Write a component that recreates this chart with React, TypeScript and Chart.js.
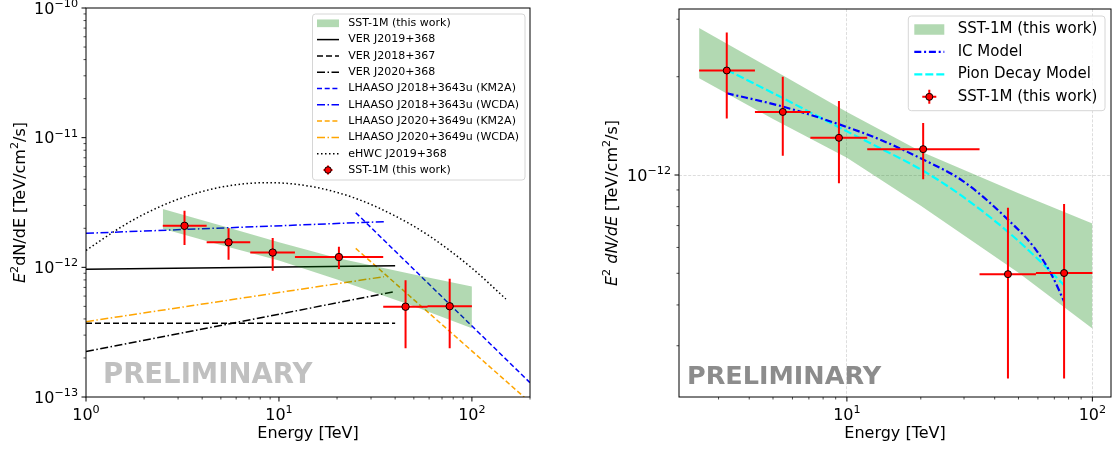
import React, { useEffect, useRef } from 'react';
import { Chart, registerables } from 'chart.js';

Chart.register(...registerables);

const FONT = 'DejaVu Sans';

// ---------------- DATA ----------------
// SST-1M flux points (E in TeV, E^2 dN/dE in TeV/cm^2/s)
const sstEnergy = [3.24, 5.48, 9.28, 20.45, 45.3, 76.7];
const sstEnergyLow = [2.5, 4.22, 7.1, 12.1, 34.7, 58.9];
const sstEnergyHigh = [4.22, 7.1, 12.1, 34.7, 58.9, 100];
const sstFlux = [2.09e-12, 1.56e-12, 1.3e-12, 1.2e-12, 4.97e-13, 5.01e-13];
const sstFluxLow = [1.49e-12, 1.146e-12, 9.43e-13, 9.7e-13, 2.38e-13, 2.38e-13];
const sstFluxHigh = [2.73e-12, 2.0e-12, 1.685e-12, 1.443e-12, 7.94e-13, 8.15e-13];

// SST-1M butterfly band
const bandEnergy = [2.5, 5, 10, 20, 50, 100];
const bandUpper = [2.82e-12, 2.1e-12, 1.56e-12, 1.18e-12, 8.8e-13, 7.1e-13];
const bandLower = [1.98e-12, 1.485e-12, 1.13e-12, 8.05e-13, 5.02e-13, 3.39e-13];

// VERITAS sources
const verEnergy = [1, 40];
const ver2019Flux = [9.66e-13, 1.03e-12];
const ver2018Flux = [3.71e-13, 3.71e-13];
const ver2020Flux = [2.24e-13, 6.5e-13];

// LHAASO sources
const km2aEnergy = [25, 200];
const lhaaso2018Km2aFlux = [2.64e-12, 1.29e-13];
const lhaaso2020Km2aFlux = [1.4e-12, 9.1e-14];
const wcdaEnergy = [1, 35];
const lhaaso2018WcdaFlux = [1.83e-12, 2.25e-12];
const lhaaso2020WcdaFlux = [3.81e-13, 8.47e-13];

// eHWC J2019+368
const ehwcEnergy = [1, 1.5, 2, 3, 5, 8.8, 15, 25, 40, 60, 100, 150];
const ehwcFlux = [1.35e-12, 2.02e-12, 2.57e-12, 3.35e-12, 4.15e-12, 4.5e-12, 4.18e-12, 3.4e-12, 2.49e-12, 1.75e-12, 9.86e-13, 5.7e-13];

// Models (right panel)
const modelEnergy = [3.24, 5.48, 9.28, 13.6, 20.45, 29.6, 45.3, 58.9, 68.7, 76.7];
const icModelFlux = [1.78e-12, 1.62e-12, 1.43e-12, 1.285e-12, 1.115e-12, 9.6e-13, 7.3e-13, 5.9e-13, 4.9e-13, 4.1e-13];
const pionModelFlux = [2.1e-12, 1.72e-12, 1.4e-12, 1.21e-12, 1.03e-12, 8.6e-13, 6.7e-13, 5.6e-13, 5.0e-13, 4.6e-13];

// Labels
const LBL_SST = 'SST-1M (this work)';
const LBL_VER2019 = 'VER J2019+368';
const LBL_VER2018 = 'VER J2018+367';
const LBL_VER2020 = 'VER J2020+368';
const LBL_L2018_KM2A = 'LHAASO J2018+3643u (KM2A)';
const LBL_L2018_WCDA = 'LHAASO J2018+3643u (WCDA)';
const LBL_L2020_KM2A = 'LHAASO J2020+3649u (KM2A)';
const LBL_L2020_WCDA = 'LHAASO J2020+3649u (WCDA)';
const LBL_EHWC = 'eHWC J2019+368';
const LBL_IC = 'IC Model';
const LBL_PION = 'Pion Decay Model';
const X_TITLE = 'Energy [TeV]';
const WATERMARK = 'PRELIMINARY';

// ---------------- HELPERS ----------------
const BAND = 'rgba(0,128,0,0.3)';
const BLUE = '#0000ff';
const ORANGE = '#ffa500';
const CYAN = '#00ffff';
const RED = '#ff0000';
const TICK_SIZE = 16;

const isPow10 = (v: number) => {
  const l = Math.log10(v);
  return Math.abs(l - Math.round(l)) < 1e-6;
};
const isNice = (v: number) => {
  const e = Math.floor(Math.log10(v) + 1e-9);
  const m = v / Math.pow(10, e);
  return Math.abs(m - Math.round(m)) < 1e-6;
};
const expText = (v: number) => String(Math.round(Math.log10(v))).replace('-', '\u2212');

const xy = (xs: number[], ys: (number | null)[]) => xs.map((x, i) => ({ x, y: ys[i] }));

function errorBarData() {
  const pts: { x: number; y: number | null }[] = [];
  sstEnergy.forEach((e, i) => {
    pts.push({ x: sstEnergyLow[i], y: sstFlux[i] }, { x: sstEnergyHigh[i], y: sstFlux[i] }, { x: sstEnergyHigh[i], y: null });
    pts.push({ x: e, y: sstFluxLow[i] }, { x: e, y: sstFluxHigh[i] }, { x: e, y: null });
  });
  return pts;
}

function lineDs(label: string, xs: number[], ys: number[], color: string, dash: number[], width: number, order: number, smooth = false) {
  return {
    label,
    data: xy(xs, ys),
    borderColor: color,
    backgroundColor: color,
    borderDash: dash,
    borderWidth: width,
    pointRadius: 0,
    pointHoverRadius: 0,
    fill: false,
    cubicInterpolationMode: smooth ? 'monotone' : 'default',
    order,
  };
}

function bandDs(order: number) {
  return [
    {
      label: 'band-lower',
      data: xy(bandEnergy, bandLower),
      borderColor: 'rgba(0,0,0,0)',
      borderWidth: 1,
      pointRadius: 0,
      fill: false,
      order,
    },
    {
      label: LBL_SST,
      data: xy(bandEnergy, bandUpper),
      borderColor: 'rgba(0,0,0,0)',
      backgroundColor: BAND,
      borderWidth: 1,
      pointRadius: 0,
      fill: '-1',
      order,
    },
  ];
}

function pointDs(radius: number) {
  return [
    {
      label: 'errbars',
      data: errorBarData(),
      borderColor: RED,
      borderWidth: 2,
      pointRadius: 0,
      fill: false,
      spanGaps: false,
      order: 1,
    },
    {
      label: LBL_SST,
      data: xy(sstEnergy, sstFlux),
      showLine: false,
      pointRadius: radius,
      pointBackgroundColor: RED,
      pointBorderColor: '#000',
      pointBorderWidth: 1,
      order: 0,
    },
  ];
}

interface Seg { text: string; italic?: boolean; sup?: boolean }
interface LegendEntry { label: string; kind: 'patch' | 'line' | 'errorbar'; color: string; dash?: number[]; width?: number }
interface LegendCfg {
  left: number; top: number; width: number; height: number; fontSize: number;
  rowStart: number; rowStep: number; handleX: number; handleLen: number; textX: number;
  barHalf: number; markerR: number; entries: LegendEntry[];
}
interface DecoCfg {
  yTitle: Seg[]; yTitleX: number; titleSize: number;
  wmColor: string; wmSize: number; wmDx: number; wmDy: number;
  xLabelBaseline: number; yLabelGap: number;
  legend: LegendCfg;
}

// draws "10" followed by a raised exponent; returns nothing
function drawPow(ctx: CanvasRenderingContext2D, v: number, x: number, baseline: number, align: 'center' | 'right') {
  const base = '10';
  const ex = expText(v);
  const bigFont = `${TICK_SIZE}px "${FONT}"`;
  const smallFont = `${TICK_SIZE * 0.7}px "${FONT}"`;
  ctx.font = bigFont;
  const wb = ctx.measureText(base).width;
  ctx.font = smallFont;
  const we = ctx.measureText(ex).width;
  const total = wb + we;
  const start = align === 'center' ? x - total / 2 : x - total;
  ctx.textAlign = 'left';
  ctx.textBaseline = 'alphabetic';
  ctx.fillStyle = '#000';
  ctx.font = bigFont;
  ctx.fillText(base, start, baseline);
  ctx.font = smallFont;
  ctx.fillText(ex, start + wb, baseline - TICK_SIZE * 0.42);
}

function makeDeco(cfg: DecoCfg) {
  return {
    id: 'deco',
    beforeDatasetsDraw(chart: any) {
      const { ctx, chartArea } = chart;
      ctx.save();
      ctx.font = `bold ${cfg.wmSize}px "${FONT}"`;
      ctx.fillStyle = cfg.wmColor;
      ctx.textBaseline = 'alphabetic';
      ctx.textAlign = 'left';
      ctx.fillText(WATERMARK, chartArea.left + cfg.wmDx, chartArea.bottom - cfg.wmDy);
      ctx.restore();
    },
    afterDraw(chart: any) {
      const { ctx, chartArea } = chart;
      const { left, right, top, bottom } = chartArea;
      ctx.save();
      // ticks + tick labels
      ctx.strokeStyle = '#000';
      const xs = chart.scales.x;
      xs.ticks.forEach((t: any) => {
        if (!isNice(t.value)) return;
        const px = xs.getPixelForValue(t.value);
        if (px < left - 0.5 || px > right + 0.5) return;
        const major = isPow10(t.value);
        ctx.lineWidth = major ? 1 : 0.7;
        ctx.beginPath();
        ctx.moveTo(px, bottom);
        ctx.lineTo(px, bottom + (major ? 4.5 : 2.5));
        ctx.stroke();
        if (major) drawPow(ctx, t.value, px, cfg.xLabelBaseline, 'center');
      });
      const ys = chart.scales.y;
      ys.ticks.forEach((t: any) => {
        if (!isNice(t.value)) return;
        const py = ys.getPixelForValue(t.value);
        if (py < top - 0.5 || py > bottom + 0.5) return;
        const major = isPow10(t.value);
        ctx.lineWidth = major ? 1 : 0.7;
        ctx.beginPath();
        ctx.moveTo(left, py);
        ctx.lineTo(left - (major ? 4.5 : 2.5), py);
        ctx.stroke();
        if (major) drawPow(ctx, t.value, left - cfg.yLabelGap, py + 5.8, 'right');
      });
      // frame
      ctx.lineWidth = 1;
      ctx.strokeStyle = '#000';
      ctx.strokeRect(left, top, right - left, bottom - top);

      // y title
      ctx.save();
      ctx.translate(cfg.yTitleX, (top + bottom) / 2);
      ctx.rotate(-Math.PI / 2);
      ctx.fillStyle = '#000';
      ctx.textBaseline = 'alphabetic';
      ctx.textAlign = 'left';
      const fontFor = (s: Seg) =>
        `${s.italic ? 'italic ' : ''}${s.sup ? cfg.titleSize * 0.7 : cfg.titleSize}px "${FONT}"`;
      let total = 0;
      cfg.yTitle.forEach((s) => { ctx.font = fontFor(s); total += ctx.measureText(s.text).width; });
      let x = -total / 2;
      cfg.yTitle.forEach((s) => {
        ctx.font = fontFor(s);
        ctx.fillText(s.text, x, s.sup ? -cfg.titleSize * 0.42 : 0);
        x += ctx.measureText(s.text).width;
      });
      ctx.restore();

      // legend
      const L = cfg.legend;
      ctx.save();
      ctx.beginPath();
      if ((ctx as any).roundRect) (ctx as any).roundRect(L.left, L.top, L.width, L.height, 3);
      else ctx.rect(L.left, L.top, L.width, L.height);
      ctx.fillStyle = 'rgba(255,255,255,0.8)';
      ctx.fill();
      ctx.strokeStyle = '#d6d6d6';
      ctx.lineWidth = 1;
      ctx.stroke();
      L.entries.forEach((e, i) => {
        const cy = L.rowStart + i * L.rowStep;
        const hx = L.handleX;
        const hl = L.handleLen;
        if (e.kind === 'patch') {
          ctx.fillStyle = e.color;
          const h = 0.7 * L.fontSize;
          ctx.fillRect(hx, cy - h / 2, hl, h);
        } else if (e.kind === 'line') {
          ctx.strokeStyle = e.color;
          ctx.lineWidth = e.width || 1.5;
          ctx.setLineDash(e.dash || []);
          ctx.beginPath();
          ctx.moveTo(hx, cy);
          ctx.lineTo(hx + hl, cy);
          ctx.stroke();
          ctx.setLineDash([]);
        } else {
          const cx = hx + hl / 2;
          ctx.strokeStyle = e.color;
          ctx.lineWidth = 2;
          ctx.beginPath();
          ctx.moveTo(cx - L.barHalf, cy);
          ctx.lineTo(cx + L.barHalf, cy);
          ctx.moveTo(cx, cy - L.barHalf);
          ctx.lineTo(cx, cy + L.barHalf);
          ctx.stroke();
          ctx.beginPath();
          ctx.arc(cx, cy, L.markerR, 0, Math.PI * 2);
          ctx.fillStyle = e.color;
          ctx.fill();
          ctx.lineWidth = 1;
          ctx.strokeStyle = '#000';
          ctx.stroke();
        }
        ctx.fillStyle = '#000';
        ctx.font = `${L.fontSize}px "${FONT}"`;
        ctx.textBaseline = 'middle';
        ctx.textAlign = 'left';
        ctx.fillText(e.label, L.textX, cy);
      });
      ctx.restore();
      ctx.restore();
    },
  };
}

function axisX(min: number, max: number, height: number, withGrid: boolean) {
  return {
    type: 'logarithmic',
    min,
    max,
    afterFit: (s: any) => { s.height = height; s.paddingLeft = 0; s.paddingRight = 0; },
    grid: {
      display: withGrid,
      drawOnChartArea: true,
      drawTicks: false,
      lineWidth: 0.8,
      color: (c: any) => (c.tick && isPow10(c.tick.value) ? '#d4d4d4' : 'rgba(0,0,0,0)'),
    },
    border: { display: false, dash: [3, 1.6] },
    ticks: {
      autoSkip: false,
      maxRotation: 0,
      minRotation: 0,
      padding: 9,
      color: '#000',
      font: { family: FONT, size: TICK_SIZE },
      callback: () => '',
    },
    title: {
      display: true,
      text: X_TITLE,
      color: '#000',
      font: { family: FONT, size: 16 },
      padding: { top: 0, bottom: 7 },
    },
  };
}

function axisY(min: number, max: number, width: number, withGrid: boolean) {
  return {
    type: 'logarithmic',
    min,
    max,
    afterFit: (s: any) => { s.width = width; s.paddingTop = 0; s.paddingBottom = 0; },
    grid: {
      display: withGrid,
      drawOnChartArea: true,
      drawTicks: false,
      lineWidth: 0.8,
      color: (c: any) => (c.tick && isPow10(c.tick.value) ? '#d4d4d4' : 'rgba(0,0,0,0)'),
    },
    border: { display: false, dash: [3, 1.6] },
    ticks: {
      autoSkip: false,
      padding: 8,
      color: '#000',
      font: { family: FONT, size: TICK_SIZE },
      callback: () => '',
    },
  };
}

function buildLeft(): any {
  const dashed = [5, 2.7];
  const dashdot = [8, 2.5, 1.5, 2.5];
  const datasets = [
    ...pointDs(3.7),
    ...bandDs(3),
    lineDs(LBL_VER2019, verEnergy, ver2019Flux, '#000', [], 1.5, 5),
    lineDs(LBL_VER2018, verEnergy, ver2018Flux, '#000', [6, 3], 1.5, 5),
    lineDs(LBL_VER2020, verEnergy, ver2020Flux, '#000', dashdot, 1.5, 5),
    lineDs(LBL_L2018_KM2A, km2aEnergy, lhaaso2018Km2aFlux, BLUE, dashed, 1.5, 5),
    lineDs(LBL_L2018_WCDA, wcdaEnergy, lhaaso2018WcdaFlux, BLUE, dashdot, 1.5, 5),
    lineDs(LBL_L2020_KM2A, km2aEnergy, lhaaso2020Km2aFlux, ORANGE, dashed, 1.5, 5),
    lineDs(LBL_L2020_WCDA, wcdaEnergy, lhaaso2020WcdaFlux, ORANGE, dashdot, 1.5, 5),
    lineDs(LBL_EHWC, ehwcEnergy, ehwcFlux, '#000', [1.5, 2.5], 1.5, 5, true),
  ];
  const deco: DecoCfg = {
    yTitle: [
      { text: 'E', italic: true },
      { text: '2', sup: true },
      { text: 'dN/dE [TeV/cm' },
      { text: '2', sup: true },
      { text: '/s]' },
    ],
    yTitleX: 25,
    titleSize: 16,
    wmColor: '#c0c0c0',
    wmSize: 27.5,
    wmDx: 17,
    wmDy: 13.7,
    xLabelBaseline: 420,
    yLabelGap: 8,
    legend: {
      left: 312.5, top: 14, width: 212.5, height: 166, fontSize: 11,
      rowStart: 23.3, rowStep: 16.3, handleX: 317, handleLen: 22, textX: 348.3,
      barHalf: 4.5, markerR: 3.3,
      entries: [
        { label: LBL_SST, kind: 'patch', color: BAND },
        { label: LBL_VER2019, kind: 'line', color: '#000', dash: [] },
        { label: LBL_VER2018, kind: 'line', color: '#000', dash: [6, 3] },
        { label: LBL_VER2020, kind: 'line', color: '#000', dash: dashdot },
        { label: LBL_L2018_KM2A, kind: 'line', color: BLUE, dash: dashed },
        { label: LBL_L2018_WCDA, kind: 'line', color: BLUE, dash: dashdot },
        { label: LBL_L2020_KM2A, kind: 'line', color: ORANGE, dash: dashed },
        { label: LBL_L2020_WCDA, kind: 'line', color: ORANGE, dash: dashdot },
        { label: LBL_EHWC, kind: 'line', color: '#000', dash: [1.5, 2.5] },
        { label: LBL_SST, kind: 'errorbar', color: RED },
      ],
    },
  };
  return {
    type: 'line',
    data: { datasets },
    options: {
      responsive: false,
      animation: false,
      events: [],
      layout: { padding: { left: 0, top: 8, right: 28, bottom: 0 } },
      plugins: { legend: { display: false }, tooltip: { enabled: false } },
      scales: { x: axisX(1, 200, 53, false), y: axisY(1e-13, 1e-10, 86, false) },
    },
    plugins: [makeDeco(deco)],
  };
}

function buildRight(): any {
  const icDash = [7, 2.8, 2, 2.8];
  const pionDash = [8, 3];
  const datasets = [
    ...pointDs(3.5),
    lineDs(LBL_IC, modelEnergy, icModelFlux, BLUE, icDash, 2.2, 5, true),
    lineDs(LBL_PION, modelEnergy, pionModelFlux, CYAN, pionDash, 2.2, 5, true),
    ...bandDs(8),
  ];
  const deco: DecoCfg = {
    yTitle: [
      { text: 'E', italic: true },
      { text: '2', sup: true },
      { text: ' dN/dE', italic: true },
      { text: ' [TeV/cm' },
      { text: '2', sup: true },
      { text: '/s]' },
    ],
    yTitleX: 58.5,
    titleSize: 16,
    wmColor: '#8c8c8c',
    wmSize: 25.5,
    wmDx: 8,
    wmDy: 13,
    xLabelBaseline: 420,
    yLabelGap: 8,
    legend: {
      left: 350.3, top: 16, width: 196.7, height: 94.7, fontSize: 15,
      rowStart: 29.5, rowStep: 22.45, handleX: 356.3, handleLen: 30, textX: 399.7,
      barHalf: 7, markerR: 3.5,
      entries: [
        { label: LBL_SST, kind: 'patch', color: BAND },
        { label: LBL_IC, kind: 'line', color: BLUE, dash: icDash, width: 2.2 },
        { label: LBL_PION, kind: 'line', color: CYAN, dash: pionDash, width: 2.2 },
        { label: LBL_SST, kind: 'errorbar', color: RED },
      ],
    },
  };
  return {
    type: 'line',
    data: { datasets },
    options: {
      responsive: false,
      animation: false,
      events: [],
      layout: { padding: { left: 0, top: 9, right: 4, bottom: 0 } },
      plugins: { legend: { display: false }, tooltip: { enabled: false } },
      scales: { x: axisX(2.07, 119.1, 53, true), y: axisY(2.09e-13, 3.224e-12, 121, true) },
    },
    plugins: [makeDeco(deco)],
  };
}

function ChartPanel({ build, left, width }: { build: () => any; left: number; width: number }) {
  const ref = useRef<HTMLCanvasElement>(null);
  useEffect(() => {
    if (!ref.current) return;
    const chart = new Chart(ref.current, build());
    return () => chart.destroy();
  }, [build]);
  return (
    <canvas
      ref={ref}
      width={width}
      height={450}
      style={{ position: 'absolute', left, top: 0, width, height: 450 }}
    />
  );
}

export default function App() {
  return (
    <div style={{ position: 'absolute', left: 0, top: 0, width: 1116, height: 450, background: '#fff', overflow: 'hidden' }}>
      <ChartPanel build={buildLeft} left={0} width={558} />
      <ChartPanel build={buildRight} left={558} width={558} />
    </div>
  );
}
